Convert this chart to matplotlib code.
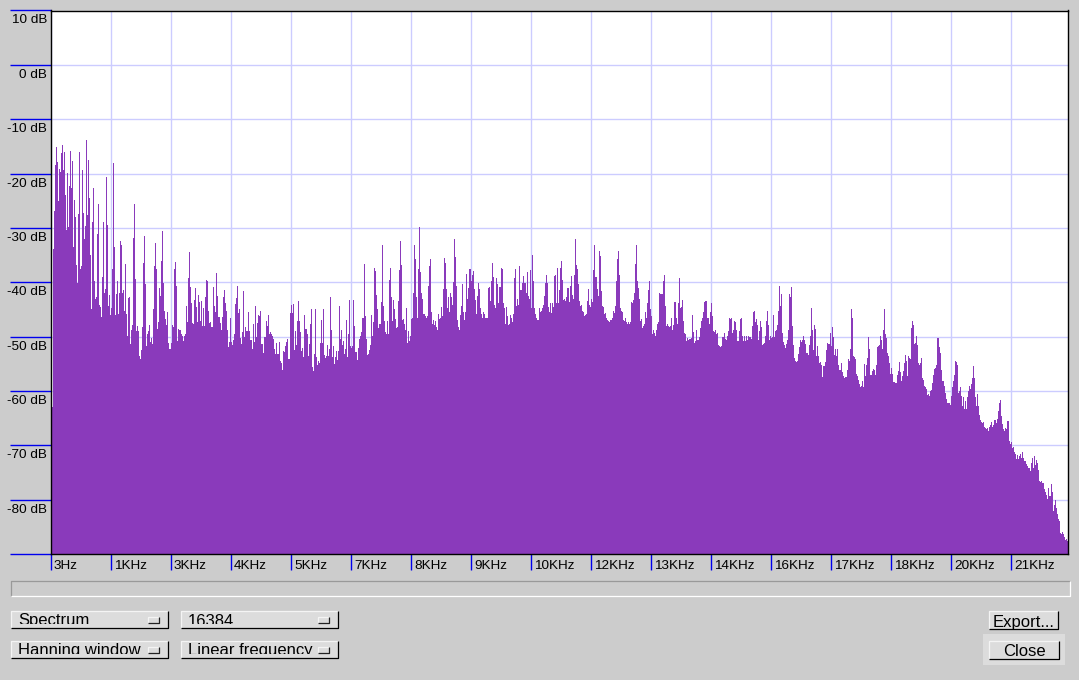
import numpy as np
import matplotlib
matplotlib.use('Agg')
import matplotlib.pyplot as plt
from matplotlib.patches import Rectangle
from matplotlib.transforms import ScaledTranslation

plt.rcParams['font.family'] = ['Liberation Sans', 'DejaVu Sans']

# spectrum level per screen column (dB) in four stretches
db_low = [-63, -33.9, -26.9, -18.5, -15.1, -17.9, -25.1, -19.2, -19.7, -16.2, -14.8, -19.4, -16.1, -24, -30.4, -19.9, -29.8, -22.3, -15.9, -22.7, -17.7, -33.5, -24.9, -28, -36.9, -40.1, -27.5, -16.1, -37.6, -37.1, -19.4, -27.2, -32.1, -29.7, -13.9, -27.7, -17.5, -24.5, -35, -45, -29, -22.7, -39.8, -43.1, -42.7, -31.2, -25.6, -44.2, -44.6, -46.4, -39.1, -29, -42, -41.3, -20.7, -29.5, -44.4, -42.4, -46.1, -44.8, -37.6, -18.1, -33.6, -46.1, -42.2, -39.8, -45.9, -42, -32.5, -33.2,
          -42, -41.5, -45.2, -36.7, -45.9, -49.8, -42.9, -42.8, -51.4, -48.8, -47.9, -31.9, -25.6, -39.4, -49, -48.1, -49, -53.6, -54.2, -52.5, -48.3, -36.5, -31.5, -40.4, -51.8, -49.6, -49, -47.9, -51, -50.3, -51.4, -45, -37.1, -32.8, -37.6, -48.6, -47.3, -41.1, -42.6, -36, -30.6, -40.1, -45.2, -46.8, -47.9, -45.5, -51.2, -52.3, -52.3, -51.2, -47.9, -48.3, -37.6, -36.3, -40.7, -50.9, -48.6, -48.8, -48.8, -49.6, -49.8, -50.9, -49.8, -49.6, -44.4, -47.3, -39.2, -34.5, -40.9, -43.9, -47.5, -47.7, -43.3, -41.1, -44.6, -47.3, -42.4, -43.7, -47.2, -43.5, -48.1, -44.8, -48.1, -42.8, -39.6, -39.8, -45.2, -47.5, -47.3, -48.3, -48.3, -40.9, -44.4, -45.5, -38.3, -42.6, -46.4, -46.4, -47.5, -48.8, -46.4, -42.8, -41.5, -43.9, -45.2, -48.8, -52, -51, -46.6, -51, -51.6, -50.7, -49.6, -44, -42.9, -40.7, -45.7, -45, -50.2, -51.4, -49.2, -41.7, -50, -48.3, -49, -49, -45.5, -49, -50.7, -50.7, -52.3, -47.7, -51, -44.4, -50, -47.5, -46.1, -46.3, -45.3, -51.4, -51.4, -53, -50, -50, -47.2, -48.1, -46.1, -49.6, -49.2, -49.6, -49.8, -50.5, -52.3, -53.2, -51.2, -53.2, -53.2, -51, -54.4, -54.9, -56.2, -52.7, -52.9, -51.8, -51, -50.5, -54.2, -54.2, -45.7, -44.2, -45.7, -44, -52.5, -49, -51.6, -47.2, -43.5, -47.2, -49.2, -52.7, -52.1, -53.8, -46.1, -48.6, -48.6, -49.6, -53.6, -51.4, -47.7]
db_mid1 = [-45, -55.6, -56.4, -53.2, -45, -53.8, -55.3, -54.5, -54.9, -51.2, -47, -51.2, -45, -53.4, -54, -53.6, -51.6, -53.6, -52.3, -42.8, -48.7, -53.8, -51.8, -55.1, -53.8, -52.7, -54.3, -52.7, -44.3, -50.5, -48.8, -51.6, -50.9, -53.2, -52.3, -47, -53.8, -49.6, -43.3, -51.8, -52.1, -51.8, -43.3, -48.1, -52.9, -52.9, -54.3, -52.1, -50.5, -49.9, -49.2, -46.5, -46.5, -36.7, -46.3, -50.5, -53.4, -53.2, -52.5, -51.6, -46.1, -49.9, -47.4, -37.3, -38, -42.4, -45, -48.5, -47.7, -47.6, -43.7, -33.1, -44.3, -47.2, -49.2, -49.6, -47.2, -49.6, -39.5, -37.3, -42.8, -47.2, -43.3, -45, -46.8, -48.5, -48.3, -43.5, -37.8, -32.5, -36.9, -47, -46.8, -47.7, -48.7, -44.8, -51.2, -49, -50.9, -49.9, -46.8, -46.6, -42, -33.1, -35.8, -42.8, -46.5, -37.6, -29.8, -38.2, -41.9, -43.1, -45.9, -45.9, -46.3, -46.6, -46.3, -40.6, -37.1, -35.8, -45.5, -47.6, -47, -47.9, -47.2, -48.3, -48.7, -45.9, -46.8, -46.5, -44.6, -46.3, -41.3, -35.6, -36.5, -41.3, -44.8, -42.8, -45.4, -41.9, -42.8, -44.1, -40, -32.1, -35.4, -40.6, -47, -48.3, -48.8, -46.1, -44.4, -40.4, -45.4, -47, -45.4, -38.4, -43, -41.1, -37.6, -37.6, -39.7, -38.6, -38, -41.3, -43.3, -45.9, -42.6, -40.2, -41.3, -44.8, -45.9, -46.5, -45.4, -45.9, -46.5, -46.6, -46.6, -41.1, -40.9, -43.5, -39.8, -36.5, -39.1, -44.1, -44.8, -39.3, -40.4, -43.9, -40.8, -40.9, -37.3, -37.5, -43.9, -44.8, -47.6, -44.6, -46.3, -47.9, -47.7, -46.1, -46.5, -47.4, -45.9, -39.3, -37.6, -44.3, -43.1, -44.1, -37.1, -41.5, -41.5, -40.2, -38.9, -40.2, -40.2, -42, -38.2, -42.6, -43, -37.8, -44.8, -34.9, -39.7, -44.8, -45.9, -46.6, -47, -47, -44.8, -45.5, -45.2, -44.8, -44.1, -42.6, -40.2, -38.6, -40.2, -44.6, -45.5, -43.9, -45.7, -43.9, -44.6, -38.9, -38.6, -43.9, -37.3]
db_mid2 = [-43.9, -41.5, -37.3, -36, -39.5, -43.3, -43, -43.5, -42.8, -41.1, -41.1, -43.7, -40.6, -38.9, -42.4, -43, -38.7, -32.1, -36.9, -37.5, -40.4, -43.5, -44.3, -44.1, -45.2, -45.5, -46.3, -46.1, -45.9, -43.5, -41.3, -44.1, -44.6, -43, -43.7, -37.8, -33.2, -39.1, -39.1, -41.3, -42.6, -34.3, -35.1, -41.7, -44.3, -44.6, -45.9, -45.7, -46.5, -47, -47.2, -47.4, -47, -47, -46.6, -45.2, -45.7, -44.4, -39.7, -35.8, -34.2, -38.7, -44.8, -45.2, -45.5, -47, -47.2, -46.6, -47.4, -47.6, -47.4, -47.6, -47.4, -43.7, -43.9, -43.3, -42, -36.7, -33.1, -39.7, -41.1, -43.1, -47.2, -46.8, -48.5, -48.1, -47.7, -45.5, -46.6, -43.9, -41.5, -39.7, -45, -46.3, -49.6, -48.8, -49.4, -49.8, -48.7, -47.7, -47.4, -41.9, -42.2, -42.2, -42.2, -39.7, -38.7, -44.4, -48.1, -47.6, -48.1, -48.3, -48.1, -46.5, -48.7, -47.9, -43.7, -43.7, -46.5, -47.6, -43.9, -39.3, -44.8, -44.6, -43.3, -47.2, -49.4, -49.6, -50.9, -50.3, -50.7, -50.5, -50.5, -50.3, -46.1, -49.2, -51.2, -50.9, -48.7, -50.7, -50.7, -50.1, -48.5, -47.2, -46.5, -45.4, -43.7, -43.5, -43.5, -46.5, -46.5, -47.6, -45.4, -43.9, -46.3, -49, -49.2, -48.7, -49.6, -49.4, -51.6, -51.8, -52, -51.8, -50.1, -50.1, -49.4, -50.5, -50.7, -49.9, -49, -46.5, -46.8, -46.6, -49.4, -48.7, -47.2, -47.3, -48.7, -50.9, -50.9, -49, -46.8, -46.6, -49.9, -50.9, -49.8, -50.9, -49.8, -50.7, -49.8, -50.1, -50.1, -50.5, -48.1, -45.4, -45.2, -47.4, -46.8, -47.9, -50.7, -49, -47.2, -48.3, -51.6, -51.4, -51.2, -49.8, -47.2, -45.2, -47.9, -50.7, -49.8, -50.3, -50.1, -46.1, -50.1, -49, -48.7, -47.9, -45.2, -40.6, -44.4, -42.2, -49.4, -51, -51.6, -52.1, -51.4, -50.7, -48.7, -42.2, -42.8, -40.8, -48.1, -51.6, -54, -54.5, -54.7, -54.5, -53.2, -52, -50.7, -51, -50.7, -49.9, -50.7, -51.4, -53.1, -53.1, -53.4, -51.6, -49.8]
db_high = [-44.8, -48.8, -52.5, -47.9, -48.6, -53.5, -51.8, -53.5, -54.9, -54.6, -55.3, -57.5, -55.5, -55.5, -54.6, -52.5, -51.2, -51.4, -51.4, -49.4, -51.8, -48.3, -50.1, -53.3, -52.3, -53.5, -52.2, -55.3, -56.2, -56.2, -54.9, -56.6, -57.2, -57.7, -57.5, -57.5, -56.2, -54.2, -54.4, -52.3, -44.9, -46.6, -53.6, -53.8, -54.2, -56.8, -57.2, -57.9, -58.8, -59.2, -59, -58.1, -59.2, -55.1, -57.2, -55.3, -54, -50.1, -52.2, -57, -57, -56.4, -56, -56.2, -57, -55.3, -52, -51.8, -51.6, -49.8, -50.7, -52.2, -48.8, -44.9, -49.6, -50.3, -53.1, -53.6, -54.9, -56.8, -55.7, -56.8, -58.3, -58.3, -58.5, -58.6, -57, -56.4, -54.6, -56.6, -58.1, -57.3, -56.4, -54.8, -53.3, -54.4, -57.3, -53.5, -54, -54.2, -48.5, -47.2, -47.9, -51.4, -51.2, -49.8, -51.6, -54.8, -55.3, -54.8, -54, -57.7, -57.9, -59, -59.2, -59.6, -60.7, -60.5, -61, -60.1, -59.9, -58.6, -57, -56, -55.7, -55.3, -50.3, -50.3, -52, -53.1, -56.2, -58.1, -58.1, -59, -60.3, -61.4, -62.3, -62.3, -62.3, -62.5, -61, -59.2, -58.1, -57, -54.4, -54.6, -55.3, -60.3, -60.1, -59.2, -60.9, -62.7, -61.2, -63.3, -61.8, -63.3, -61.2, -60.1, -59, -59.6, -58.8, -57.7, -55.5, -57.7, -61.2, -62.7, -60.5, -62.7, -64.4, -65.3, -65.7, -65.9, -65.7, -66.6, -66.8, -67, -66.8, -67.3, -66.6, -66.2, -65.7, -66.6, -66.2, -65.3, -65.3, -65.9, -65.1, -63.6, -62.2, -61.6, -64.6, -66, -67, -67.3, -66.8, -67, -65.5, -65.5, -69.2, -69.8, -69.4, -70.5, -70.3, -71.2, -71.6, -72.5, -71.8, -72.5, -72, -71.6, -72.3, -71.2, -72.3, -72.9, -72.9, -73.5, -73.8, -74.2, -74.2, -74.8, -73.3, -72.3, -74.2, -72, -73.6, -72.7, -73.3, -74.6, -76.6, -76.8, -76.6, -77, -77, -78.1, -78.6, -79.2, -79.8, -77.9, -79.4, -79.4, -77.2, -78.6, -82, -81, -80.1, -81.6, -82.7, -83.5, -84, -86.2, -86.4, -86, -86.4, -86.8, -87.5, -87.3, -87.7, -86.2]

# first frequency of each stretch and width of one screen column (Hz)
seg_start = [3, 5618, 10973, 16458]
col_hz = 21.68

db_ticks = [10, 0, -10, -20, -30, -40, -50, -60, -70, -80, -90]
db_labels = ['10 dB', '0 dB', '-10 dB', '-20 dB', '-30 dB', '-40 dB', '-50 dB', '-60 dB', '-70 dB', '-80 dB', '']
hz_ticks = [3, 1304, 2605, 3906, 5207, 6508, 7809, 9110, 10411, 11712, 13013, 14314, 15615, 16916, 18217, 19518, 20819]
hz_labels = ['3Hz', '1KHz', '3KHz', '4KHz', '5KHz', '7KHz', '8KHz', '9KHz', '10KHz', '12KHz', '13KHz', '14KHz', '16KHz', '17KHz', '18KHz', '20KHz', '21KHz']

freq = []
db = []
for start, seg in zip(seg_start, [db_low, db_mid1, db_mid2, db_high]):
    freq.extend(start + col_hz * np.arange(len(seg)))
    db.extend(seg)
freq = np.array(freq)
db = np.array(db)

bg = '#cccccc'
fig = plt.figure(figsize=(10.79, 6.80), dpi=100, facecolor=bg)

# window widgets, drawn in screen pixels
ui = fig.add_axes([0, 0, 1, 1])
ui.set_xlim(0, 1079)
ui.set_ylim(680, 0)
ui.axis('off')


def bevel(x0, y0, x1, y1, light, dark, lw=0.9):
    ui.plot([x0, x0, x1], [y1, y0, y0], color=light, lw=lw, solid_capstyle='butt')
    ui.plot([x0, x1, x1], [y1, y1, y0], color=dark, lw=lw, solid_capstyle='butt')


def button(x0, y0, x1, y1, label, indicator=True, center=False):
    ui.add_patch(Rectangle((x0, y0), x1 - x0, y1 - y0, fc='#dcdcdc', ec='none'))
    bevel(x0, y0, x1, y1, '#f4f4f4', '#000000')
    clip = Rectangle((x0, y0), x1 - x0, y1 - y0 - 4, transform=ui.transData)
    tx = (x0 + x1) / 2 if center else x0 + 7
    t = ui.text(tx, y1 - 2.5, label, fontsize=12, color='black', va='baseline',
                ha='center' if center else 'left')
    if indicator:
        # the toolkit cuts the text of the option menus at the bottom
        t.set_clip_path(clip)
        t.set_clip_on(True)
        ui.add_patch(Rectangle((x1 - 20, y0 + 6), 11, 6, fc='#dcdcdc', ec='none'))
        bevel(x1 - 20, y0 + 6, x1 - 9, y0 + 12, '#f4f4f4', '#222222')


bevel(10.5, 580.5, 1069.5, 595.5, '#999999', '#ffffff')
button(11, 611, 168, 628, 'Spectrum')
button(181, 611, 338, 628, '16384')
button(11, 641, 168, 658, 'Hanning window')
button(181, 641, 338, 658, 'Linear frequency')
button(989, 611, 1058, 629, 'Export...', indicator=False, center=True)
ui.add_patch(Rectangle((983, 634), 82, 31, fc='#dcdcdc', ec='none'))
button(989, 641, 1059, 659, 'Close', indicator=False, center=True)

# spectrum axes
ax = fig.add_axes([51 / 1079, 1 - 554 / 680, 1017 / 1079, 543.5 / 680])
ax.set_xlim(3, 22050)
ax.set_ylim(-90, 10)
ax.set_facecolor('white')
ax.grid(True, color='#ccccff', lw=1.0)
ax.set_axisbelow(True)
# one solid line per column, like the bitmap the program draws
ax.vlines(freq + col_hz / 2, -90, db, color='#8a3abb', lw=0.7, antialiased=False, zorder=2)

ax.set_yticks(db_ticks, db_labels, fontsize=9.7)
ax.set_xticks(hz_ticks, hz_labels, fontsize=9.7)
ax.tick_params(axis='y', length=29.5, width=1.0, color='#0000ee', pad=-26.6, labelcolor='black')
ax.tick_params(axis='x', length=11.5, width=1.0, color='#0000ee', pad=-7.5, labelcolor='black')
down = ScaledTranslation(0, -4 / 100, fig.dpi_scale_trans)
for lab in ax.get_yticklabels():
    lab.set_va('top')
    lab.set_transform(lab.get_transform() + down)
right = ScaledTranslation(3 / 100, 0, fig.dpi_scale_trans)
for lab in ax.get_xticklabels():
    lab.set_ha('left')
    lab.set_transform(lab.get_transform() + right)
for sp in ax.spines.values():
    sp.set_linewidth(1.0)
    sp.set_color('black')
    sp.set_zorder(5)

fig.savefig('out.png', dpi=100, facecolor=bg)
